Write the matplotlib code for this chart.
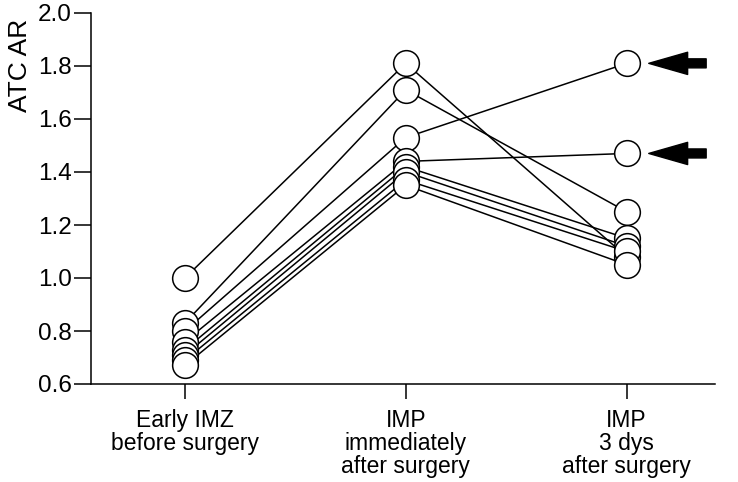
import matplotlib
matplotlib.use("Agg")
import matplotlib.pyplot as plt

plt.rcParams['font.family'] = ['Liberation Sans', 'DejaVu Sans']

categories = ["Early IMZ\nbefore surgery", "IMP\nimmediately\nafter surgery", "IMP\n3 dys\nafter surgery"]
early_imz = [1.00, 0.83, 0.80, 0.76, 0.73, 0.71, 0.69, 0.67]
imp_immediate = [1.81, 1.71, 1.53, 1.44, 1.42, 1.40, 1.37, 1.35]
imp_3days = [1.08, 1.25, 1.81, 1.47, 1.15, 1.12, 1.10, 1.05]
arrow_values = [1.81, 1.47]
yticks = [0.6, 0.8, 1.0, 1.2, 1.4, 1.6, 1.8, 2.0]

fig = plt.figure(figsize=(7.38, 4.82), dpi=100)
ax = fig.add_axes([91/738, 98/482, (715-91)/738, (384-13)/482])

xs = list(range(len(categories)))
for a, b, c in zip(early_imz, imp_immediate, imp_3days):
    ax.plot(xs, [a, b, c], color='black', lw=1.1, zorder=2)
for i, series in enumerate([early_imz, imp_immediate, imp_3days]):
    ax.plot([i]*len(series), series, 'o', ms=18.5, mfc='white', mec='black',
            mew=1.1, ls='none', zorder=3)

for v in arrow_values:
    ax.annotate('', xy=(2.10, v), xytext=(2.36, v),
                arrowprops=dict(width=6.5, headwidth=16, headlength=28,
                                facecolor='black', edgecolor='black', shrink=0),
                annotation_clip=False)

ax.set_xlim(-0.425, 2.4)
ax.set_ylim(0.6, 2.0)
ax.set_yticks(yticks)
ax.set_yticklabels([f"{t:.1f}" for t in yticks])
ax.set_xticks(xs)
ax.set_xticklabels(categories, linespacing=1.0)
ax.spines['top'].set_visible(False)
ax.spines['right'].set_visible(False)
for s in ['left', 'bottom']:
    ax.spines[s].set_linewidth(1.1)
ax.tick_params(axis='y', direction='out', length=12, width=1.1, pad=2, labelsize=17.5)
ax.tick_params(axis='x', direction='out', length=11, width=1.1, pad=7, labelsize=16.5)
ax.set_ylabel("ATC AR", fontsize=19)
ax.yaxis.set_label_coords(-0.095, 0.86)

fig.savefig("out.png", dpi=100)
